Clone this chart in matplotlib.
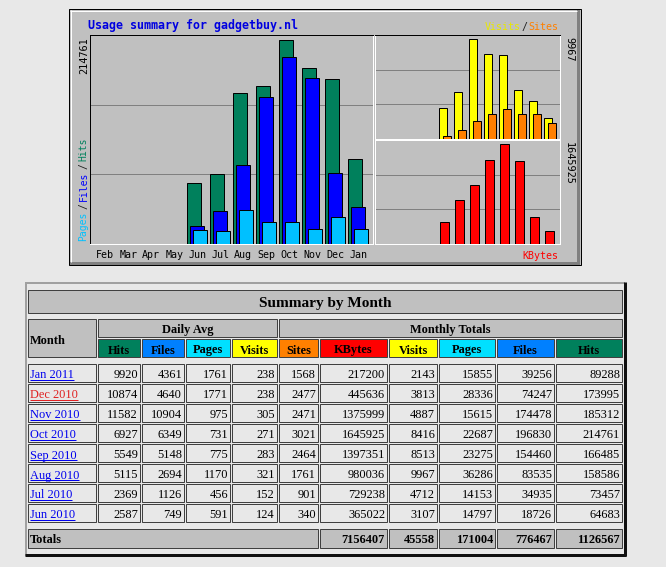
import numpy as np
import matplotlib
matplotlib.use("Agg")
import matplotlib.pyplot as plt
from matplotlib.patches import Rectangle
from matplotlib import transforms

# ---------------- data ----------------
chart_months = ['Feb', 'Mar', 'Apr', 'May', 'Jun', 'Jul', 'Aug', 'Sep', 'Oct', 'Nov', 'Dec', 'Jan']
hits   = [0, 0, 0, 0, 64683, 73457, 158586, 166485, 214761, 185312, 173995, 89288]
files  = [0, 0, 0, 0, 18726, 34935, 83535, 154460, 196830, 174478, 74247, 39256]
pages  = [0, 0, 0, 0, 14797, 14153, 36286, 23275, 22687, 15615, 28336, 15855]
visits = [0, 0, 0, 0, 3107, 4712, 9967, 8513, 8416, 4887, 3813, 2143]
sites  = [0, 0, 0, 0, 340, 901, 1761, 2464, 3021, 2471, 2477, 1568]
kbytes = [0, 0, 0, 0, 365022, 729238, 980036, 1397351, 1645925, 1375999, 445636, 217200]

table_months = ['Jan 2011', 'Dec 2010', 'Nov 2010', 'Oct 2010', 'Sep 2010',
                'Aug 2010', 'Jul 2010', 'Jun 2010']
daily_hits   = [9920, 10874, 11582, 6927, 5549, 5115, 2369, 2587]
daily_files  = [4361, 4640, 10904, 6349, 5148, 2694, 1126, 749]
daily_pages  = [1761, 1771, 975, 731, 775, 1170, 456, 591]
daily_visits = [238, 238, 305, 271, 283, 321, 152, 124]
totals = [7156407, 45558, 171004, 776467, 1126567]  # KBytes, Visits, Pages, Files, Hits

header_labels = ['Hits', 'Files', 'Pages', 'Visits', 'Sites', 'KBytes', 'Visits', 'Pages', 'Files', 'Hits']

# ---------------- styles ----------------
W, H = 666, 567
BG = '#e8e8e8'
GREY = '#c0c0c0'
C_HITS, C_FILES, C_PAGES = '#00805c', '#0000ff', '#00c0ff'
C_VISITS, C_SITES, C_KB = '#ffff00', '#ff8000', '#ff0000'
T_HITS, T_FILES, T_PAGES = '#00805c', '#0080ff', '#00e0ff'
header_colors = [T_HITS, T_FILES, T_PAGES, C_VISITS, C_SITES, C_KB, C_VISITS, T_PAGES, T_FILES, T_HITS]
MONO = 'DejaVu Sans Mono'
SERIF = 'Liberation Serif'
PX = 0.72  # one pixel in points

fig = plt.figure(figsize=(W / 100, H / 100), dpi=100, facecolor=BG)
ax0 = fig.add_axes([0, 0, 1, 1])
ax0.set_xlim(0, W)
ax0.set_ylim(H, 0)
ax0.axis('off')


def rect(x0, y0, x1, y1, fc, ec='none', lw=PX, z=1):
    ax0.add_patch(Rectangle((x0, y0), x1 - x0, y1 - y0, facecolor=fc,
                            edgecolor=ec, linewidth=lw, zorder=z))


def line(xs, ys, c, lw=PX, z=2):
    ax0.plot(xs, ys, color=c, lw=lw, solid_capstyle='butt', zorder=z)


# ---------------- chart panel ----------------
rect(69, 9, 581, 265, GREY, z=0.5)
rect(70, 262, 580, 265, '#808080', z=0.6)
rect(577, 10, 580, 265, '#808080', z=0.6)
line([70, 577], [10.5, 10.5], 'white', z=0.7)
line([70.5, 70.5], [10, 262], 'white', z=0.7)
rect(69, 9, 581, 265, 'none', ec='black', z=0.8)


def add_ax(x0, y0, x1, y1):
    a = fig.add_axes([x0 / W, 1 - y1 / H, (x1 - x0) / W, (y1 - y0) / H])
    a.set_facecolor(GREY)
    a.set_xticks([])
    a.set_yticks([])
    return a


def style_spines(a, top, left, bottom, right):
    for s, c in zip(['top', 'left', 'bottom', 'right'], [top, left, bottom, right]):
        a.spines[s].set_color(c)
        a.spines[s].set_linewidth(PX)
        a.spines[s].set_zorder(5)


x = np.arange(len(chart_months))


def nz(vals):
    idx = [i for i, v in enumerate(vals) if v > 0]
    return np.array(idx), np.array([vals[i] for i in idx])


# main plot
axm = add_ax(90, 35, 373, 244)
style_spines(axm, 'black', 'black', 'white', 'white')
axm.set_xlim(-0.661, 11.643)
top_m = max(hits) * 1.024
axm.set_ylim(0, top_m)
for k in (1, 2):
    axm.axhline(top_m * k / 3, color='#808080', lw=PX, zorder=1)
for vals, off, col in ((hits, -0.13, C_HITS), (files, 0.0, C_FILES), (pages, 0.13, C_PAGES)):
    ix, v = nz(vals)
    axm.bar(ix + off, v, width=0.59, color=col, edgecolor='black', linewidth=PX, zorder=3)

# upper right: visits / sites
axv = add_ax(375, 35, 560, 139)
style_spines(axv, 'black', 'white', 'white', 'white')
axv.set_xlim(-0.633, 11.7)
top_v = max(visits) * 1.045
axv.set_ylim(0, top_v)
for k in (1, 2):
    axv.axhline(top_v * k / 3, color='#808080', lw=PX, zorder=1)
ix, v = nz(visits)
axv.bar(ix - 0.1, v, width=0.53, color=C_VISITS, edgecolor='black', linewidth=PX, zorder=3)
ix, v = nz(sites)
axv.bar(ix + 0.167, v, width=0.5, color=C_SITES, edgecolor='black', linewidth=PX, zorder=4)

# lower right: kbytes
axk = add_ax(375, 140, 560, 244)
style_spines(axk, 'white', 'white', 'white', 'white')
axk.set_xlim(-0.633, 11.7)
top_k = max(kbytes) * 1.045
axk.set_ylim(0, top_k)
for k in (1, 2):
    axk.axhline(top_k * k / 3, color='#808080', lw=PX, zorder=1)
ix, v = nz(kbytes)
axk.bar(ix, v, width=0.62, color=C_KB, edgecolor='black', linewidth=PX, zorder=3)

# chart texts
ax0.text(88, 25, 'Usage summary for gadgetbuy.nl', family=MONO, weight='bold',
         fontsize=8.4, color='#0000e0', ha='left', va='center', zorder=3)
ax0.text(558, 27, 'Sites', family=MONO, fontsize=7.2, color=C_SITES, ha='right', va='center', zorder=3)
ax0.text(524, 27, '/', family=MONO, fontsize=7.2, color='#202020', ha='center', va='center', zorder=3)
ax0.text(521, 27, 'Visits', family=MONO, fontsize=7.2, color='#e8e800', ha='right', va='center', zorder=3)
ax0.text(558, 256, 'KBytes', family=MONO, fontsize=7.2, color=C_KB, ha='right', va='center', zorder=3)

tr = transforms.blended_transform_factory(axm.transData, ax0.transData)
for i, m in enumerate(chart_months):
    ax0.text(i, 255, m, transform=tr, family=MONO, fontsize=7.2, color='black',
             ha='center', va='center', zorder=3)

ax0.text(84, 37, str(max(hits)), family=MONO, fontsize=7.4, rotation=90,
         ha='center', va='top', zorder=3)
ax0.text(569, 37, str(max(visits)), family=MONO, fontsize=7.4, rotation=270,
         ha='center', va='top', zorder=3)
ax0.text(569, 142, str(max(kbytes)), family=MONO, fontsize=7.4, rotation=270,
         ha='center', va='top', zorder=3)
ax0.text(83.5, 241, 'Pages', family=MONO, fontsize=7.0, rotation=90, color=C_PAGES,
         ha='center', va='bottom', zorder=3)
ax0.text(83.5, 206, '/', family=MONO, fontsize=7.0, rotation=90, color='#202020',
         ha='center', va='center', zorder=3)
ax0.text(83.5, 201, 'Files', family=MONO, fontsize=7.0, rotation=90, color=C_FILES,
         ha='center', va='bottom', zorder=3)
ax0.text(83.5, 166, '/', family=MONO, fontsize=7.0, rotation=90, color='#202020',
         ha='center', va='center', zorder=3)
ax0.text(83.5, 161, 'Hits', family=MONO, fontsize=7.0, rotation=90, color=C_HITS,
         ha='center', va='bottom', zorder=3)

# ---------------- table ----------------
CELL_EC = '#404040'
# outer frame
line([25, 625], [283, 283], '#a0a0a0', lw=2 * PX)
line([26, 26], [282, 556], '#a0a0a0', lw=2 * PX)
line([25, 626], [555, 555], '#101010', lw=3 * PX)
line([624.5, 624.5], [282, 556], '#101010', lw=3 * PX)

cols = [(28, 96), (98, 140), (142, 184), (186, 230), (232, 277), (279, 318),
        (320, 387), (389, 437), (439, 495), (497, 554), (556, 622)]


def cell(x0, y0, x1, y1, fc):
    rect(x0, y0, x1, y1, fc, ec=CELL_EC, z=1)


# title row
cell(28, 290, 622, 313, GREY)
ax0.text(325, 307, 'Summary by Month', family=SERIF, weight='bold', fontsize=11,
         ha='center', va='baseline', zorder=3)
# header rows
cell(28, 319, 96, 357, GREY)
ax0.text(30, 344, 'Month', family=SERIF, weight='bold', fontsize=8.9,
         ha='left', va='baseline', zorder=3)
cell(98, 319, 277, 337, GREY)
ax0.text((98 + 277) / 2, 333, 'Daily Avg', family=SERIF, weight='bold', fontsize=8.9,
         ha='center', va='baseline', zorder=3)
cell(279, 319, 622, 337, GREY)
ax0.text((279 + 622) / 2, 333, 'Monthly Totals', family=SERIF, weight='bold', fontsize=8.9,
         ha='center', va='baseline', zorder=3)
for (cx0, cx1), lab, col in zip(cols[1:], header_labels, header_colors):
    cell(cx0, 339, cx1, 357, col)
    ax0.text((cx0 + cx1) / 2, 353.5, lab, family=SERIF, weight='bold', fontsize=8.9,
             ha='center', va='baseline', zorder=3)

rev = lambda a: a[::-1][:len(table_months)]
m_sites, m_kb, m_vis, m_pag, m_fil, m_hit = (rev(sites), rev(kbytes), rev(visits),
                                             rev(pages), rev(files), rev(hits))
link_texts = []
for r, mname in enumerate(table_months):
    y0 = 364 + 20 * r
    y1 = y0 + 18
    row_vals = [daily_hits[r], daily_files[r], daily_pages[r], daily_visits[r],
                m_sites[r], m_kb[r], m_vis[r], m_pag[r], m_fil[r], m_hit[r]]
    cell(cols[0][0], y0, cols[0][1], y1, BG)
    lc = '#e02020' if mname == 'Dec 2010' else '#0000ee'
    t = ax0.text(30, y0 + 14.5, mname, family=SERIF, fontsize=8.9, color=lc,
                 ha='left', va='baseline', zorder=3)
    link_texts.append((t, y0 + 16, lc))
    for (cx0, cx1), val in zip(cols[1:], row_vals):
        cell(cx0, y0, cx1, y1, BG)
        ax0.text(cx1 - 2, y0 + 14.5, str(val), family=SERIF, fontsize=8.9, color='black',
                 ha='right', va='baseline', zorder=3)

# totals row
cell(28, 529, 318, 548, GREY)
ax0.text(30, 543, 'Totals', family=SERIF, weight='bold', fontsize=8.9,
         ha='left', va='baseline', zorder=3)
for (cx0, cx1), val in zip(cols[6:], totals):
    cell(cx0, 529, cx1, 548, GREY)
    ax0.text(cx1 - 2, 543, str(val), family=SERIF, weight='bold', fontsize=8.9,
             ha='right', va='baseline', zorder=3)

# underline links
fig.canvas.draw()
inv = ax0.transData.inverted()
for t, yu, lc in link_texts:
    bb = t.get_window_extent()
    (xa, _), (xb, _) = inv.transform([[bb.x0, bb.y0], [bb.x1, bb.y0]])
    line([xa, xb], [yu, yu], lc, lw=PX, z=3)

fig.savefig('out.png', dpi=100, facecolor=BG)
